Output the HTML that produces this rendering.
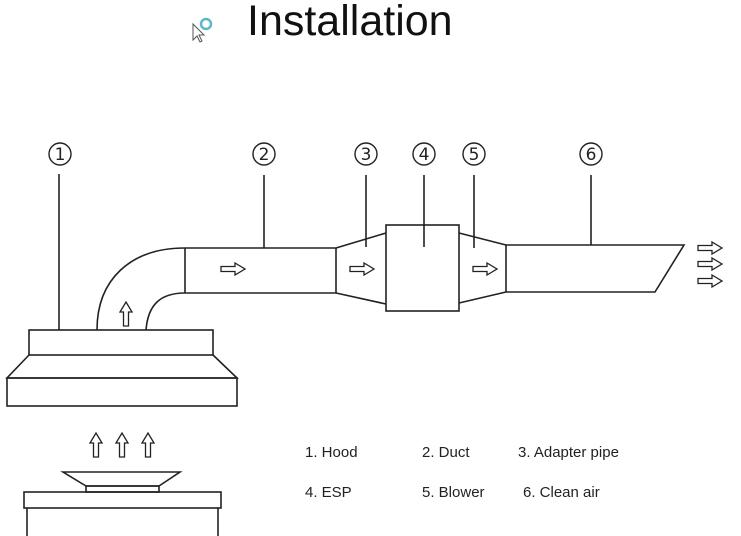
<!DOCTYPE html>
<html><head><meta charset="utf-8"><style>
html,body{margin:0;padding:0;background:#fff;}
svg{display:block}
</style></head><body>
<svg width="741" height="536" viewBox="0 0 741 536" xmlns="http://www.w3.org/2000/svg">
<defs>
<path id="ra" d="M0,-2.5 H14 V-6 L24,0 L14,6 V2.5 H0 Z" fill="#fff" stroke="#222" stroke-width="1.3"/>
<path id="ua" d="M-2.5,0 V-14 H-6 L0,-24 L6,-14 H2.5 V0 Z" fill="#fff" stroke="#222" stroke-width="1.3"/>
</defs>
<text x="247" y="35" font-family="Liberation Sans, sans-serif" font-size="43" fill="#111">Installation</text>
<!-- cursor icon -->
<circle cx="206" cy="24" r="5" fill="none" stroke="#5ab8c8" stroke-width="2.5"/>
<path d="M193,24 V40 L197,36 L200,42 L202,41 L199,35 L204,35 Z" fill="#fff" stroke="#555" stroke-width="1"/>
<g fill="none" stroke="#222" stroke-width="1.6">
<!-- hood -->
<rect x="29" y="330" width="184" height="25"/>
<path d="M29,355 L7,378 H237 L213,355"/>
<rect x="7" y="378" width="230" height="28"/>
<!-- elbow -->
<path d="M97,330 C97,280 130,248 185,248"/>
<path d="M146,330 C148,305 160,293 185,293"/>
<!-- duct -->
<path d="M185,248 H336 M185,293 H336 M185,248 V293 M336,248 V293"/>
<!-- adapter 3 -->
<path d="M336,248 L386,233 M336,293 L386,304"/>
<!-- ESP -->
<rect x="386" y="225" width="73" height="86"/>
<!-- adapter 5 -->
<path d="M459,233 L506,245 M459,303 L506,292"/>
<!-- pipe 6 -->
<path d="M506,245 H684 L655,292 H506 Z"/>
<!-- leaders -->
<path d="M59,174 V330 M264,175 V248 M366,175 V247 M424,175 V247 M474,175 V248 M591,175 V245"/>
<!-- stove -->
<path d="M63,472 H180 L159,486 H86 Z"/>
<rect x="86" y="486" width="73" height="6"/>
<rect x="24" y="492" width="197" height="16"/>
<path d="M27,508 V536 M218,508 V536"/>
</g>
<g font-family="DejaVu Sans, sans-serif" font-size="22" fill="#222" text-anchor="middle">
<g fill="none" stroke="#222" stroke-width="1.4">
<circle cx="60" cy="154" r="11"/><circle cx="264" cy="154" r="11"/><circle cx="366" cy="154" r="11"/>
<circle cx="424" cy="154" r="11"/><circle cx="474" cy="154" r="11"/><circle cx="591" cy="154" r="11"/>
</g>
<g font-size="17">
<text x="60" y="160">1</text><text x="264" y="160">2</text><text x="366" y="160">3</text>
<text x="424" y="160">4</text><text x="474" y="160">5</text><text x="591" y="160">6</text>
</g>
</g>
<use href="#ua" x="126" y="326"/>
<use href="#ra" x="221" y="269"/>
<use href="#ra" x="350" y="269"/>
<use href="#ra" x="473" y="269"/>
<use href="#ra" x="698" y="248"/>
<use href="#ra" x="698" y="264"/>
<use href="#ra" x="698" y="281"/>
<use href="#ua" x="96" y="457"/>
<use href="#ua" x="122" y="457"/>
<use href="#ua" x="148" y="457"/>
<g font-family="Liberation Sans, sans-serif" font-size="15" fill="#222">
<text x="305" y="457">1. Hood</text>
<text x="422" y="457">2. Duct</text>
<text x="518" y="457">3. Adapter pipe</text>
<text x="305" y="497">4. ESP</text>
<text x="422" y="497">5. Blower</text>
<text x="523" y="497">6. Clean air</text>
</g>
</svg>
</body></html>
